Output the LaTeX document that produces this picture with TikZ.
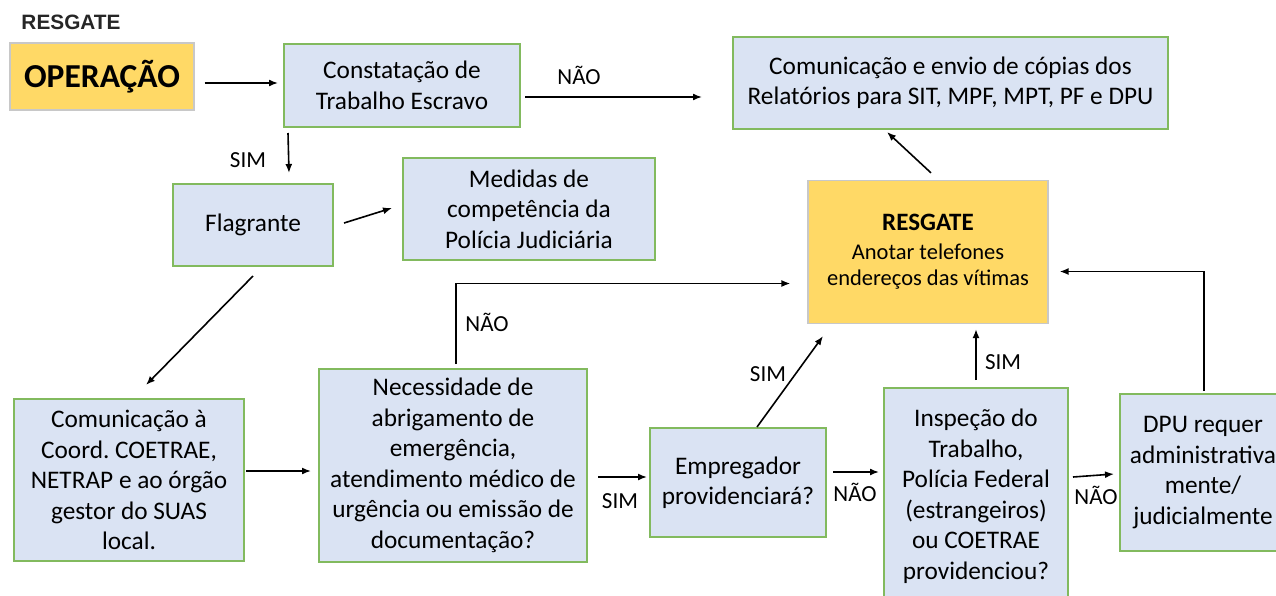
\documentclass[tikz,border=0pt]{standalone}
\usepackage{fontspec}
\setmainfont{Carlito}
\newfontfamily\arialfont{Liberation Sans}
\usetikzlibrary{arrows.meta}
\definecolor{boxblue}{HTML}{DAE3F3}
\definecolor{boxgreen}{HTML}{82BA5E}
\definecolor{yfill}{HTML}{FFD966}
\definecolor{ygray}{HTML}{C8C8C8}
\frenchspacing
\begin{document}
\begin{tikzpicture}[x=1pt,y=-1pt,
  box/.style={draw=boxgreen,line width=2pt,fill=boxblue,inner sep=0pt,align=center,font=\fontsize{25.3}{30.5}\selectfont},
  ybox/.style={draw=ygray,line width=1.2pt,fill=yfill,inner sep=0pt,align=center},
  arr/.style={-{Latex[length=9pt,width=7pt]},line width=1.6pt},
  lbl/.style={font=\fontsize{23}{26}\selectfont,inner sep=0pt}]
\useasboundingbox (0,0) rectangle (1276,595);
\clip (0,0) rectangle (1276,595);
\node[inner sep=0pt,font=\arialfont\bfseries\fontsize{20.8}{24}\selectfont,text=black!85] (title) at (71,22) {RESGATE};
\node[ybox,minimum width=184pt,minimum height=67pt,font=\bfseries\fontsize{33.5}{40}\selectfont] (op) at (102,76.5) {OPERAÇÃO};
\node[box,minimum width=236pt,minimum height=83pt] (cons) at (402,85.5) {Constatação de\\Trabalho Escravo};
\node[box,minimum width=435pt,minimum height=92pt] (com) at (950.5,83) {Comunicação e envio de cópias dos\\Relatórios para SIT, MPF, MPT, PF e DPU};
\node[box,minimum width=160pt,minimum height=82pt] (flag) at (253,225) {Flagrante};
\node[box,minimum width=252pt,minimum height=102pt] (med) at (529,209) {Medidas de\\competência da\\Polícia Judiciária};
\node[ybox,minimum width=240pt,minimum height=143pt,font=\fontsize{22.5}{26.5}\selectfont] (res) at (928,252) {{\bfseries\fontsize{25}{27}\selectfont RESGATE}\\[2pt]Anotar telefones\\endereços das vítimas};
\node[box,minimum width=230pt,minimum height=162pt] (coord) at (129,480) {Comunicação à\\Coord. COETRAE,\\NETRAP e ao órgão\\gestor do SUAS\\local.};
\node[box,minimum width=268pt,minimum height=193pt] (nec) at (453,465.5) {Necessidade de\\abrigamento de\\emergência,\\atendimento médico de\\urgência ou emissão de\\documentação?};
\node[box,minimum width=176pt,minimum height=109pt] (emp) at (738,482.5) {Empregador\\providenciará?};
\node[box,minimum width=184pt,minimum height=216pt] (insp) at (976,496) {Inspeção do\\Trabalho,\\Polícia Federal\\(estrangeiros)\\ou COETRAE\\providenciou?};
\node[box,minimum width=166pt,minimum height=157pt] (dpu) at (1203,472.5) {DPU requer\\administrativa\\mente/\\judicialmente};
% arrows
\draw[arr] ([shift={(10,6.5)}]op.east) -- ([shift={(-5,-2.5)}]cons.west);
\draw[arr] ([shift={(4,11.5)}]cons.east) -- ([shift={(-30,14)}]com.west);
\node[lbl] (l1) at (579,75) {NÃO};
\draw[arr] ([shift={(5,5)}]cons.south west) -- ([shift={(36,-10)}]flag.north);
\node[lbl] (l2) at (248,160) {SIM};
\draw[arr] ([shift={(10,-2)}]flag.east) -- ([shift={(-10,-1)}]med.west);
\draw[arr] ([shift={(0,9)}]flag.south) -- ([shift={(17,-13)}]coord.north);
\draw[arr] ([shift={(1,-9)}]coord.east) -- ([shift={(-7,5.5)}]nec.west);
\draw[arr] ([shift={(3,-4)}]nec.north) |- ([shift={(-17,31.5)}]res.west);
\node[lbl] (l3) at (487,322) {NÃO};
\draw[arr] ([shift={(10,11.5)}]nec.east) -- ([shift={(-2,-5.5)}]emp.west);
\node[lbl] (l4) at (620,501) {SIM};
\draw[arr] ([shift={(19,0)}]emp.north) -- ([shift={(-105,12)}]res.south);
\node[lbl] (l5) at (768,374) {SIM};
\draw[arr] ([shift={(6,-10.5)}]emp.east) -- ([shift={(-4,-24)}]insp.west);
\node[lbl] (l6) at (855,492) {NÃO};
\draw[arr] ([shift={(0,-7)}]insp.north) -- ([shift={(48,5)}]res.south);
\node[lbl] (l7) at (1003,362) {SIM};
\draw[arr] ([shift={(4,-19)}]insp.east) -- ([shift={(-5,1.5)}]dpu.west);
\node[lbl] (l8) at (1096,495) {NÃO};
\draw[arr] ([shift={(1,-2)}]dpu.north) |- ([shift={(11,19.5)}]res.east);
\draw[arr] ([shift={(3,-7)}]res.north) -- ([shift={(-63.5,2)}]com.south);
\end{tikzpicture}
\end{document}
